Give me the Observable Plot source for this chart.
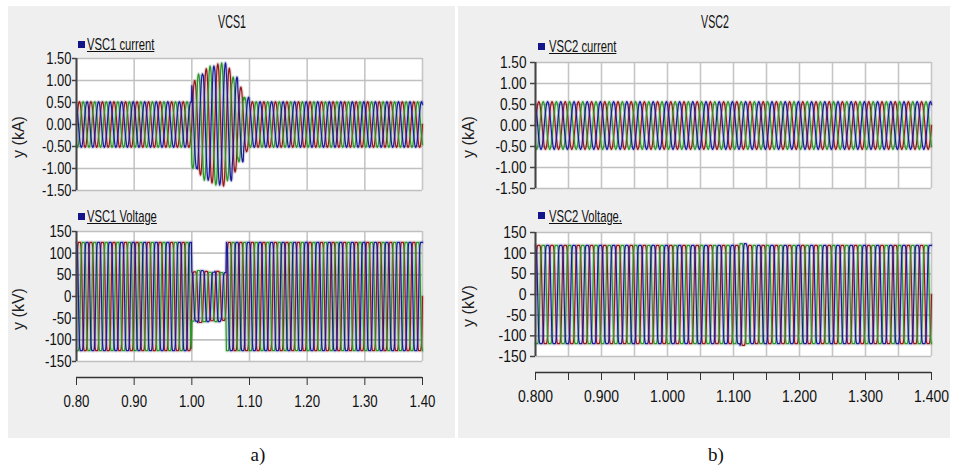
<!DOCTYPE html>
<html><head><meta charset="utf-8">
<script src="https://cdn.jsdelivr.net/npm/d3@7"></script>
<script src="https://cdn.jsdelivr.net/npm/@observablehq/plot@0.6"></script>
<style>
html,body{margin:0;padding:0;background:#fff;}
#root{position:relative;width:956px;height:465px;overflow:hidden;background:#fff;font-family:"Liberation Sans",Arial,sans-serif;}
.panel{position:absolute;background:#efefef;}
.t{position:absolute;white-space:nowrap;color:#111;}
.title{font-size:19px;transform:translate(-50%,-50%) scaleX(0.56);}
.leg{font-size:17px;text-decoration:underline;transform-origin:0 50%;transform:scaleX(0.66);}
.sq{position:absolute;width:7px;height:7px;background:#14148a;}
.ylab{font-size:16px;transform:translate(-50%,-50%) rotate(-90deg);color:#222;}
.cap{font-family:"Liberation Serif","Times New Roman",serif;font-size:19px;transform:translate(-50%,-50%);}
.svgbox{position:absolute;}
</style>
</head><body><div id="root"></div>
<script>
// ---------------- data ----------------
const timeStart = 0.80;          // s
const slotWidth = 0.01;          // s, one half-cycle of 50 Hz
const phaseNames = ["Phase a", "Phase b", "Phase c"];
const phaseColors = ["#981818", "#289628", "#1a1a9c"];
const phaseShift = [0, 16, 8];   // samples of a 24-sample cycle (120 deg steps)

// one 50 Hz cycle, normalised
const currentShape = [0, 0.28, 0.52, 0.72, 0.88, 0.97, 1, 0.97, 0.88, 0.72, 0.52, 0.28,
                      0, -0.28, -0.52, -0.72, -0.88, -0.97, -1, -0.97, -0.88, -0.72, -0.52, -0.28];
const voltageShape = [0, 0.5, 0.86, 0.96, 1, 1, 1, 1, 1, 0.96, 0.86, 0.5,
                      0, -0.5, -0.86, -0.96, -1, -1, -1, -1, -1, -0.96, -0.86, -0.5];

// peak value per 10 ms slot, 0.80 s .. 1.40 s (60 slots)
const vsc1CurrentPeak = [
  0.52,0.52,0.52,0.52,0.52,0.52,0.52,0.52,0.52,0.52,
  0.52,0.52,0.52,0.52,0.52,0.52,0.52,0.52,0.52,0.52,
  1.00,1.15,1.27,1.33,1.38,1.40,1.28,1.08,0.85,0.62,
  0.52,0.52,0.52,0.52,0.52,0.52,0.52,0.52,0.52,0.52,
  0.52,0.52,0.52,0.52,0.52,0.52,0.52,0.52,0.52,0.52,
  0.52,0.52,0.52,0.52,0.52,0.52,0.52,0.52,0.52,0.52];
const vsc1VoltagePeak = [
  125,125,125,125,125,125,125,125,125,125,
  125,125,125,125,125,125,125,125,125,125,
  57,60,58,56,58,55,125,125,125,125,
  125,125,125,125,125,125,125,125,125,125,
  125,125,125,125,125,125,125,125,125,125,
  125,125,125,125,125,125,125,125,125,125];
const vsc2CurrentPeak = [
  0.57,0.57,0.57,0.57,0.57,0.57,0.57,0.57,0.57,0.57,
  0.57,0.57,0.57,0.57,0.57,0.57,0.57,0.57,0.57,0.57,
  0.57,0.57,0.57,0.57,0.57,0.57,0.57,0.57,0.57,0.57,
  0.57,0.57,0.57,0.57,0.57,0.57,0.57,0.57,0.57,0.57,
  0.57,0.57,0.57,0.57,0.57,0.57,0.57,0.57,0.57,0.57,
  0.57,0.57,0.57,0.57,0.57,0.57,0.57,0.57,0.57,0.57];
const vsc2VoltagePeak = [
  119,119,119,119,119,119,119,119,119,119,
  119,119,119,119,119,119,119,119,119,119,
  119,119,119,119,119,119,119,119,119,119,
  119,123,119,119,119,119,119,119,119,119,
  119,119,119,119,119,119,119,119,119,119,
  119,119,119,119,119,119,119,119,119,119];

// axes
const xTicksA = [0.8, 0.9, 1.0, 1.1, 1.2, 1.3, 1.4];
const xTicksB = [0.8, 0.85, 0.9, 0.95, 1.0, 1.05, 1.1, 1.15, 1.2, 1.25, 1.3, 1.35, 1.4];
const xLabelsB = [0.8, 0.9, 1.0, 1.1, 1.2, 1.3, 1.4];
const currentTicks = [-1.5, -1.0, -0.5, 0, 0.5, 1.0, 1.5];
const voltageTicks = [-150, -100, -50, 0, 50, 100, 150];

// ---------------- build rows ----------------
function buildRows(shape, peaks) {
  const per = shape.length / 2;          // samples per slot
  const n = peaks.length * per;
  const rows = [];
  phaseNames.forEach((p, k) => {
    for (let i = 0; i <= n; i++) {
      const slot = Math.min(peaks.length - 1, Math.floor(i / per));
      const s = shape[(i + phaseShift[k]) % shape.length];
      rows.push({phase: p, t: timeStart + i * slotWidth / per, v: s * peaks[slot]});
    }
  });
  return rows;
}
const fmt = f => d => d3.format(f)(d).replace("\u2212", "-");

const root = document.getElementById("root");
function add(html) { root.insertAdjacentHTML("beforeend", html); }

add(`<div class="panel" style="left:8px;top:6px;width:447px;height:432px"></div>`);
add(`<div class="panel" style="left:458px;top:6px;width:492px;height:432px"></div>`);

function subplot(o) {
  const marks = [
    Plot.frame({fill: "white", stroke: null}),
    Plot.ruleX(o.xGrid, {stroke: "#c6c6c6", strokeWidth: 1.6}),
    Plot.ruleY(o.yTicks, {stroke: "#c0c0c0", strokeWidth: 1.6}),
    Plot.line(o.rows, {x: "t", y: "v", z: "phase", stroke: "phase", strokeWidth: 3.5, strokeOpacity: 0.18}),
    Plot.line(o.rows, {x: "t", y: "v", z: "phase", stroke: "phase", strokeWidth: 1.2}),
    Plot.ruleX([o.xDomain[0]], {stroke: "#444", strokeWidth: 2}),
    Plot.axisY(o.yTicks, {label: null, tickSize: o.tickSize, tickPadding: o.tickPad, tickFormat: o.yFormat, stroke: "#444", strokeWidth: 1.5, fill: "#111"})
  ];
  if (o.showX) {
    marks.push(Plot.ruleY([o.yDomain[0]], {x1: o.xDomain[0], x2: o.xDomain[1], dy: o.axisDy, stroke: "#333", strokeWidth: 1.5}));
    marks.push(Plot.axisX(o.xGrid, {label: null, tickSize: 8, tickPadding: 9, dy: o.axisDy, stroke: "#333", fill: "#111",
      tickFormat: d => o.xLabels.some(v => Math.abs(v - d) < 1e-9) ? fmt(o.xFormat)(d) : ""}));
  }
  const svg = Plot.plot({
    width: o.W, height: o.H,
    marginLeft: o.mL, marginRight: o.mR, marginTop: o.mT, marginBottom: o.mB,
    x: {domain: o.xDomain, axis: null},
    y: {domain: o.yDomain, axis: null},
    color: {domain: phaseNames, range: phaseColors},
    style: {background: "transparent", overflow: "visible", fontFamily: '"Liberation Sans",Arial,sans-serif', fontSize: "17px"},
    marks
  });
  const box = document.createElement("div");
  box.className = "svgbox";
  box.style.left = o.L + "px"; box.style.top = o.T + "px";
  box.appendChild(svg);
  root.appendChild(box);
  // condense tick labels like the narrow font of the original
  svg.querySelectorAll("text").forEach(t => {
    const w = t.getComputedTextLength();
    if (w > 0) { t.setAttribute("textLength", (w * o.squeeze).toFixed(1)); t.setAttribute("lengthAdjust", "spacingAndGlyphs"); }
  });
}

// a) left
subplot({rows: buildRows(currentShape, vsc1CurrentPeak), L: 0, T: 30, W: 456, H: 170, mL: 76, mR: 34, mT: 28, mB: 10,
  xDomain: [0.8, 1.4], yDomain: [-1.5, 1.5], xGrid: xTicksA, yTicks: currentTicks, yFormat: fmt(".2f"), tickSize: 4, tickPad: 1, showX: false, squeeze: 0.76});
subplot({rows: buildRows(voltageShape, vsc1VoltagePeak), L: 0, T: 205, W: 456, H: 215, mL: 76, mR: 34, mT: 26, mB: 59,
  xDomain: [0.8, 1.4], yDomain: [-150, 150], xGrid: xTicksA, xLabels: xTicksA, xFormat: ".2f", yTicks: voltageTicks, yFormat: fmt("d"), tickSize: 4, tickPad: 1, showX: true, axisDy: 16, squeeze: 0.78});
// b) right
subplot({rows: buildRows(currentShape, vsc2CurrentPeak), L: 456, T: 30, W: 500, H: 170, mL: 79, mR: 25, mT: 32, mB: 12,
  xDomain: [0.8, 1.4], yDomain: [-1.5, 1.5], xGrid: xTicksB, yTicks: currentTicks, yFormat: fmt(".2f"), tickSize: 5, tickPad: 4, showX: false, squeeze: 0.8});
subplot({rows: buildRows(voltageShape, vsc2VoltagePeak), L: 456, T: 205, W: 500, H: 215, mL: 79, mR: 25, mT: 27, mB: 64,
  xDomain: [0.8, 1.4], yDomain: [-150, 150], xGrid: xTicksB, xLabels: xLabelsB, xFormat: ".3f", yTicks: voltageTicks, yFormat: fmt("d"), tickSize: 5, tickPad: 4, showX: true, axisDy: 16, squeeze: 0.82});

// texts
add(`<div class="t title" style="left:232px;top:22px">VCS1</div>`);
add(`<div class="t title" style="left:715px;top:22px">VSC2</div>`);
add(`<div class="sq" style="left:78px;top:41px"></div><div class="t leg" style="left:87px;top:35px">VSC1 current</div>`);
add(`<div class="sq" style="left:78px;top:213px"></div><div class="t leg" style="left:87px;top:207px">VSC1 Voltage</div>`);
add(`<div class="sq" style="left:538px;top:43px"></div><div class="t leg" style="left:549px;top:37px">VSC2 current</div>`);
add(`<div class="sq" style="left:538px;top:212px"></div><div class="t leg" style="left:549px;top:207px">VSC2 Voltage.</div>`);
add(`<div class="t ylab" style="left:19px;top:137px">y (kA)</div>`);
add(`<div class="t ylab" style="left:19px;top:309px">y (kV)</div>`);
add(`<div class="t ylab" style="left:469px;top:137px">y (kA)</div>`);
add(`<div class="t ylab" style="left:469px;top:306px">y (kV)</div>`);
add(`<div class="t cap" style="left:258px;top:455px">a)</div>`);
add(`<div class="t cap" style="left:716px;top:455px">b)</div>`);
</script>
</body></html>
